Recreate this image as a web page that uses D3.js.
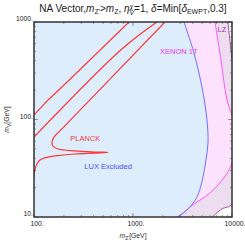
<!DOCTYPE html>
<html>
<head>
<meta charset="utf-8">
<script src="https://cdn.jsdelivr.net/npm/d3@7"></script>
<style>
  body { margin: 0; background: #fff; }
  svg { display: block; font-family: "Liberation Sans", Arial, sans-serif; }
</style>
</head>
<body>
<div id="chart"></div>
<script>
// curves, [mZ' GeV, mV GeV]
const planck1 = [[100, 111], [140, 160], [146, 166], [911, 1000]]
const planck2 = [[100, 66], [793, 541], [1746, 1000]]
const planck3 = [[2104, 1000], [196, 82], [159, 66], [152, 58.8], [155, 53.5], [175, 49.8], [259, 47.6],
  [413, 46.4], [558, 45.9], [413, 45.2], [259, 44.3], [175, 42.7], [132, 40.7], [115, 38.5],
  [107, 35.0], [102, 30.3], [100, 25.7]]
const lux = [[3273, 1000], [4130, 481], [4976, 215], [5587, 98.9], [5726, 57.4], [5460, 38.5],
  [5093, 25.7], [4430, 16.0], [3508, 11.8], [2780, 10]]
const xenon = [[6730, 1000], [7743, 407], [8900, 158.5], [10970, 78], [10000, 35.8], [8690, 27],
  [7225, 21.3], [5998, 17.6], [4755, 14.9], [3767, 12.7], [3126, 10.7], [2850, 10]]
const lz = [[9120, 1000], [10000, 407], [12050, 99], [10000, 13.6], [7925, 12.1], [6280, 10]]

const xTicks = [100, 1000, 10000]
const yTicks = [10, 100, 1000]
const xTickLabels = ["100.", "1000.", "10000."]
const yTickLabels = ["10.", "100.", "1000."]

const width = 245
const height = 241
const margin = { left: 34, right: 13, top: 22, bottom: 24 }

const x = d3.scaleLog().domain([100, 10000]).range([margin.left, width - margin.right])
const y = d3.scaleLog().domain([10, 1000]).range([height - margin.bottom, margin.top])

const svg = d3.select("#chart").append("svg")
  .attr("width", width)
  .attr("height", height)

svg.append("defs").append("clipPath").attr("id", "plot")
  .append("rect")
  .attr("x", x(100)).attr("y", y(1000))
  .attr("width", x(10000) - x(100)).attr("height", y(10) - y(1000))

const curveLine = d3.line()
  .x(d => x(d[0]))
  .y(d => y(d[1]))
  .curve(d3.curveCatmullRom.alpha(0.5))

// region left of a boundary curve, closed along the left frame
const leftArea = pts => curveLine(pts) +
  "L" + x(100) + "," + y(pts[pts.length - 1][1]) +
  "L" + x(100) + "," + y(pts[0][1]) + "Z"

const g = svg.append("g").attr("clip-path", "url(#plot)")

g.append("path").attr("d", leftArea(lz)).attr("fill", "#ecdeee")
g.append("path").attr("d", leftArea(xenon)).attr("fill", "#fde2fd")
g.append("path").attr("d", leftArea(lux)).attr("fill", "#ddedfc")

const lines = [
  { pts: lz, color: "#a550a8", w: 1 },
  { pts: xenon, color: "#ff55ff", w: 1 },
  { pts: lux, color: "#6e70ff", w: 1 },
  { pts: planck1, color: "#ff3535", w: 1.2 },
  { pts: planck2, color: "#ff3535", w: 1.2 },
  { pts: planck3, color: "#ff3535", w: 1.2 },
]
lines.forEach(l => {
  g.append("path")
    .attr("d", curveLine(l.pts))
    .attr("fill", "none")
    .attr("stroke", l.color)
    .attr("stroke-width", l.w)
})

// region labels
const labels = [
  { text: "PLANCK", at: [330, 60], color: "#ee3a3a" },
  { text: "LUX Excluded", at: [560, 31], color: "#4a4cff" },
  { text: "XENON 1T", at: [2900, 470], color: "#ee33ee" },
  { text: "LZ", at: [7900, 790], color: "#a03a9c" },
]
labels.forEach(l => {
  svg.append("text")
    .attr("x", x(l.at[0]))
    .attr("y", y(l.at[1]))
    .attr("fill", l.color)
    .attr("font-size", 7.5)
    .attr("text-anchor", "middle")
    .text(l.text)
})

// ticks
const minorX = d3.range(2, 10).flatMap(k => [k * 100, k * 1000])
const minorY = d3.range(2, 10).flatMap(k => [k * 10, k * 100])
const tickG = svg.append("g").attr("stroke", "#555").attr("stroke-width", 0.6)
xTicks.forEach(v => {
  tickG.append("line").attr("x1", x(v)).attr("x2", x(v)).attr("y1", y(10)).attr("y2", y(10) - 4)
  tickG.append("line").attr("x1", x(v)).attr("x2", x(v)).attr("y1", y(1000)).attr("y2", y(1000) + 4)
})
minorX.forEach(v => {
  tickG.append("line").attr("x1", x(v)).attr("x2", x(v)).attr("y1", y(10)).attr("y2", y(10) - 2)
  tickG.append("line").attr("x1", x(v)).attr("x2", x(v)).attr("y1", y(1000)).attr("y2", y(1000) + 2)
})
yTicks.forEach(v => {
  tickG.append("line").attr("x1", x(100)).attr("x2", x(100) + 4).attr("y1", y(v)).attr("y2", y(v))
  tickG.append("line").attr("x1", x(10000)).attr("x2", x(10000) - 4).attr("y1", y(v)).attr("y2", y(v))
})
minorY.forEach(v => {
  tickG.append("line").attr("x1", x(100)).attr("x2", x(100) + 2).attr("y1", y(v)).attr("y2", y(v))
  tickG.append("line").attr("x1", x(10000)).attr("x2", x(10000) - 2).attr("y1", y(v)).attr("y2", y(v))
})

// frame
svg.append("rect")
  .attr("x", x(100)).attr("y", y(1000))
  .attr("width", x(10000) - x(100)).attr("height", y(10) - y(1000))
  .attr("fill", "none")
  .attr("stroke", "#333")
  .attr("stroke-width", 1.5)

// tick labels
xTicks.forEach((v, i) => {
  svg.append("text")
    .attr("x", x(v) + 3).attr("y", y(10) + 9)
    .attr("font-size", 6.8).attr("text-anchor", "middle").attr("fill", "#222")
    .text(xTickLabels[i])
})
yTicks.forEach((v, i) => {
  svg.append("text")
    .attr("x", x(100) - 1).attr("y", y(v) - 1)
    .attr("font-size", 6.8).attr("text-anchor", "end").attr("fill", "#222")
    .text(yTickLabels[i])
})

// axis titles
const xt = svg.append("text")
  .attr("x", x(1000)).attr("y", height - 3)
  .attr("font-size", 6.8).attr("text-anchor", "middle").attr("fill", "#333")
xt.append("tspan").attr("font-style", "italic").text("m")
xt.append("tspan").attr("font-size", 5).attr("dy", 1.5).text("Z'")
xt.append("tspan").attr("dy", -1.5).text("[GeV]")

const yt = svg.append("text")
  .attr("transform", `translate(9,${(y(10) + y(1000)) / 2}) rotate(-90)`)
  .attr("font-size", 6.8).attr("text-anchor", "middle").attr("fill", "#333")
yt.append("tspan").attr("font-style", "italic").text("m")
yt.append("tspan").attr("font-size", 5).attr("dy", 1.5).text("V")
yt.append("tspan").attr("dy", -1.5).text("[GeV]")

// title
const title = svg.append("text")
  .attr("x", 133).attr("y", 12)
  .attr("font-size", 10).attr("text-anchor", "middle").attr("fill", "#222")
title.append("tspan").text("NA Vector,")
title.append("tspan").attr("font-style", "italic").text("m")
title.append("tspan").attr("font-size", 7).attr("dy", 2).text("Z'")
title.append("tspan").attr("dy", -2).text(">")
title.append("tspan").attr("font-style", "italic").text("m")
title.append("tspan").attr("font-size", 7).attr("dy", 2).text("Z")
title.append("tspan").attr("dy", -2).text(", ")
title.append("tspan").attr("font-style", "italic").text("η")
title.append("tspan").attr("font-size", 7).attr("font-style", "italic").attr("dy", -3.5).text("χ")
title.append("tspan").attr("font-size", 7).attr("font-style", "italic").attr("dx", -4).attr("dy", 6).text("V")
title.append("tspan").attr("dy", -2.5).text("=1, ")
title.append("tspan").attr("font-style", "italic").text("δ")
title.append("tspan").text("=Min[")
title.append("tspan").attr("font-style", "italic").text("δ")
title.append("tspan").attr("font-size", 7).attr("dy", 2).text("EWPT")
title.append("tspan").attr("dy", -2).text(",0.3]")
</script>
</body>
</html>
